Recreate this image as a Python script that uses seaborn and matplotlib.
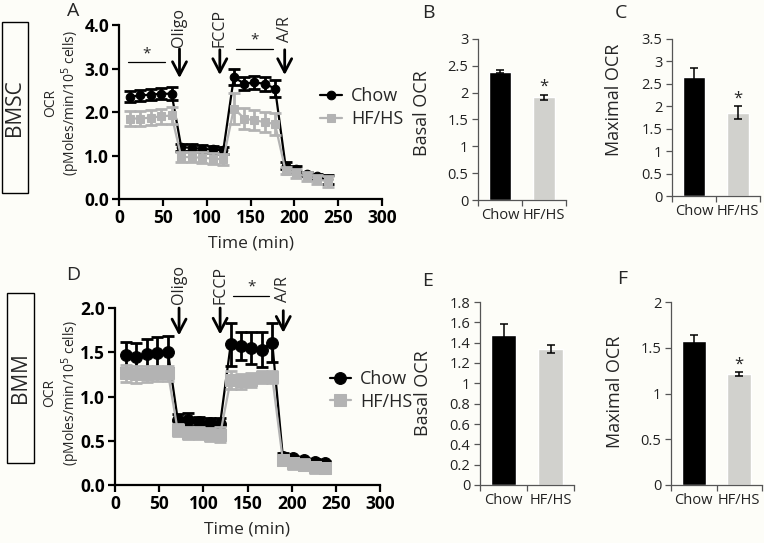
import numpy as np
import pandas as pd
import seaborn as sns
import matplotlib.pyplot as plt
from matplotlib.patches import Rectangle

# Seahorse time points (min)
time_min = [12, 24, 36, 48, 60, 71, 83, 95, 107, 119, 131, 143, 154, 166, 178, 190, 202, 214, 226, 238]

# BMSC OCR trace (A)
bmsc_chow = [2.35, 2.38, 2.40, 2.42, 2.42, 1.19, 1.18, 1.15, 1.14, 1.12, 2.80, 2.65, 2.68, 2.65, 2.54, 0.76, 0.68, 0.58, 0.52, 0.45]
bmsc_chow_sem = [0.13, 0.13, 0.13, 0.13, 0.15, 0.08, 0.08, 0.08, 0.08, 0.08, 0.18, 0.15, 0.15, 0.16, 0.19, 0.08, 0.08, 0.05, 0.05, 0.10]
bmsc_hfhs = [1.85, 1.85, 1.87, 1.90, 1.92, 0.97, 0.96, 0.95, 0.93, 0.91, 2.08, 1.85, 1.81, 1.77, 1.72, 0.65, 0.59, 0.51, 0.45, 0.41]
bmsc_hfhs_sem = [0.17, 0.18, 0.18, 0.18, 0.20, 0.12, 0.12, 0.13, 0.13, 0.13, 0.35, 0.25, 0.23, 0.23, 0.25, 0.08, 0.10, 0.10, 0.10, 0.13]

# BMM OCR trace (D)
bmm_chow = [1.47, 1.45, 1.48, 1.49, 1.50, 0.74, 0.74, 0.71, 0.70, 0.69, 1.59, 1.57, 1.55, 1.53, 1.61, 0.32, 0.30, 0.28, 0.26, 0.245]
bmm_chow_sem = [0.15, 0.15, 0.17, 0.18, 0.18, 0.06, 0.07, 0.06, 0.06, 0.07, 0.24, 0.16, 0.18, 0.20, 0.22, 0.04, 0.03, 0.03, 0.03, 0.03]
bmm_hfhs = [1.26, 1.25, 1.25, 1.26, 1.26, 0.62, 0.59, 0.585, 0.57, 0.57, 1.19, 1.17, 1.19, 1.22, 1.22, 0.28, 0.245, 0.23, 0.20, 0.19]
bmm_hfhs_sem = [0.10, 0.10, 0.09, 0.08, 0.08, 0.07, 0.07, 0.07, 0.07, 0.08, 0.10, 0.08, 0.08, 0.07, 0.07, 0.05, 0.06, 0.06, 0.06, 0.06]

# bar panels (B, C, E, F)
groups = ['Chow', 'HF/HS']
bmsc_basal = [2.39, 1.91]
bmsc_basal_sem = [0.03, 0.04]
bmsc_max = [2.66, 1.86]
bmsc_max_sem = [0.20, 0.14]
bmm_basal = [1.48, 1.34]
bmm_basal_sem = [0.10, 0.04]
bmm_max = [1.57, 1.215]
bmm_max_sem = [0.07, 0.02]

injections = ['Oligo', 'FCCP', 'A/R']

sns.set_theme(style='ticks')
plt.rcParams['font.family'] = ['Open Sans', 'DejaVu Sans']

bg = '#fdfdf8'
black = '#000000'
grey_line = '#b3b3b3'
grey_bar = '#d1d1cd'
W, H = 764, 543

fig = plt.figure(figsize=(W / 100, H / 100), dpi=100, facecolor=bg)


def px_axes(l, t, r, b):
    return fig.add_axes([l / W, 1 - b / H, (r - l) / W, (b - t) / H])


def trace_panel(ax, chow, chow_sem, hfhs, hfhs_sem, ms, ymax, ystep, arrow_x, arrow_y, txt_y):
    ax.set_facecolor(bg)
    df = pd.DataFrame({'time': time_min * 2,
                       'ocr': chow + hfhs,
                       'group': ['Chow'] * len(chow) + ['HF/HS'] * len(hfhs)})
    specs = [('Chow', chow_sem, black, 'o', 2), ('HF/HS', hfhs_sem, grey_line, 's', 3)]
    for name, sem, col, mk, z in specs:
        sub = df[df['group'] == name]
        sns.lineplot(data=sub, x='time', y='ocr', color=col, marker=mk, markersize=ms,
                     markeredgecolor=col, lw=1.6, ax=ax, zorder=z, label=name)
        ax.errorbar(sub['time'], sub['ocr'], yerr=sem, fmt='none', ecolor=col,
                    elinewidth=2.0, capsize=4.3, capthick=2.0, zorder=z)
    ax.set_xlim(0, 300)
    ax.set_ylim(0, ymax)
    ax.set_xticks(np.arange(0, 301, 50))
    ax.set_yticks(np.arange(0, ymax + 0.001, ystep))
    ax.set_yticklabels([f'{v:.1f}' for v in np.arange(0, ymax + 0.001, ystep)])
    for lab in ax.get_xticklabels() + ax.get_yticklabels():
        lab.set_fontweight('bold')
    ax.tick_params(axis='both', direction='out', length=5, width=1.6, labelsize=12.5,
                   pad=2, colors=black)
    for s in ['left', 'bottom']:
        ax.spines[s].set_linewidth(1.6)
        ax.spines[s].set_color(black)
    sns.despine(ax=ax)
    ax.set_xlabel('Time (min)', fontsize=12.5, labelpad=6)
    ax.set_ylabel('')
    # injection arrows
    for name, x, (y0, y1), ty in zip(injections, arrow_x, arrow_y, txt_y):
        ax.annotate('', xy=(x, y1), xytext=(x, y0), annotation_clip=False,
                    arrowprops=dict(arrowstyle='->, head_length=0.8, head_width=0.42',
                                    lw=2.0, color=black, shrinkA=0, shrinkB=0))
        ax.text(x, ty, name, rotation=90, ha='center', va='bottom', fontsize=11.5,
                clip_on=False)


def sig_bar(ax, x0, x1, y, dy):
    ax.plot([x0, x1], [y, y], color=black, lw=0.9, clip_on=False)
    ax.text((x0 + x1) / 2, y + dy, '*', ha='center', va='bottom', fontsize=11, clip_on=False)


def bar_panel(ax, vals, sems, ymax, ystep, fmt_vals, label, star_y=None, barw=0.5):
    ax.set_facecolor(bg)
    sns.barplot(x=groups, y=vals, hue=groups, palette=[black, grey_bar], width=barw,
                saturation=1, errorbar=None, legend=False, ax=ax)
    ax.errorbar([0, 1], vals, yerr=sems, fmt='none', ecolor=black, elinewidth=1.1,
                capsize=3, capthick=1.1, zorder=3)
    ax.set_xlim(-0.5, 1.5)
    ax.set_ylim(0, ymax)
    ax.set_yticks(np.arange(0, ymax + 0.001, ystep))
    ax.set_yticklabels(fmt_vals)
    ax.set_xticks([-0.5, 0.5, 1.5], minor=True)
    ax.tick_params(axis='x', which='major', length=0, pad=6, labelsize=10.5, colors='#222222')
    ax.tick_params(axis='x', which='minor', length=4, width=0.9, direction='out', colors='#555555')
    ax.tick_params(axis='y', length=4, width=0.9, direction='out', labelsize=10.5, pad=3,
                   colors='#555555', labelcolor='#222222')
    for s in ['left', 'bottom']:
        ax.spines[s].set_linewidth(0.9)
        ax.spines[s].set_color('#555555')
    sns.despine(ax=ax)
    ax.set_xlabel('')
    ax.set_ylabel(label, fontsize=13)
    if star_y is not None:
        ax.text(1, star_y, '*', ha='center', va='center', fontsize=12)


# ---- row 1: BMSC ----
axA = px_axes(119, 25, 382, 199)
trace_panel(axA, bmsc_chow, bmsc_chow_sem, bmsc_hfhs, bmsc_hfhs_sem, 6.2, 4.0, 1.0,
            [69, 115, 189], [(3.45, 2.78), (3.43, 2.85), (3.43, 2.85)], [3.5, 3.5, 3.62])
sig_bar(axA, 10, 52, 3.14, 0.03)
sig_bar(axA, 134, 176, 3.45, 0.03)
axA.legend(loc='center left', bbox_to_anchor=(0.765, 0.525), frameon=False, fontsize=13,
           handlelength=1.2, handletextpad=0.5, labelspacing=0.3, borderpad=0, borderaxespad=0)
axA.text(-0.215, 0.55, 'OCR\n(pMoles/min/10$^5$ cells)', transform=axA.transAxes, rotation=90,
         ha='center', va='center', fontsize=10, linespacing=1.1, multialignment='center')

axB = px_axes(478, 39, 566, 200)
bar_panel(axB, bmsc_basal, bmsc_basal_sem, 3, 0.5, ['0', '0.5', '1', '1.5', '2', '2.5', '3'],
          'Basal OCR', star_y=2.12)
axB.yaxis.set_label_coords(-0.53, 0.54)

axC = px_axes(672, 39, 760, 196)
bar_panel(axC, bmsc_max, bmsc_max_sem, 3.5, 0.5, ['0', '0.5', '1', '1.5', '2', '2.5', '3', '3.5'],
          'Maximal OCR', star_y=2.18)
axC.yaxis.set_label_coords(-0.56, 0.61)

# ---- row 2: BMM ----
axD = px_axes(115, 308, 380, 485)
trace_panel(axD, bmm_chow, bmm_chow_sem, bmm_hfhs, bmm_hfhs_sem, 8.5, 2.0, 0.5,
            [72.5, 119, 190.5], [(2.0, 1.69), (2.0, 1.70), (1.97, 1.72)], [2.05, 2.05, 2.07])
sig_bar(axD, 134, 174, 2.14, 0.015)
axD.legend(loc='center left', bbox_to_anchor=(0.81, 0.535), frameon=False, fontsize=13,
           handlelength=1.2, handletextpad=0.5, labelspacing=0.25, borderpad=0, borderaxespad=0)
axD.text(-0.2, 0.52, 'OCR\n(pMoles/min/10$^5$ cells)', transform=axD.transAxes, rotation=90,
         ha='center', va='center', fontsize=10, linespacing=1.1, multialignment='center')

axE = px_axes(480, 302, 574, 485)
bar_panel(axE, bmm_basal, bmm_basal_sem, 1.8, 0.2,
          ['0', '0.2', '0.4', '0.6', '0.8', '1', '1.2', '1.4', '1.6', '1.8'], 'Basal OCR', barw=0.52)
axE.yaxis.set_label_coords(-0.51, 0.5)

axF = px_axes(671, 302, 762, 485)
bar_panel(axF, bmm_max, bmm_max_sem, 2, 0.5, ['0', '0.5', '1', '1.5', '2'],
          'Maximal OCR', star_y=1.32, barw=0.52)
axF.yaxis.set_label_coords(-0.52, 0.51)

# panel letters
for letter, x, y in [('A', 73.5, 11), ('B', 428, 13.5), ('C', 621, 13.5),
                     ('D', 73.5, 274.5), ('E', 428, 281), ('F', 622.5, 279)]:
    fig.text(x / W, 1 - y / H, letter, ha='center', va='center', fontsize=14)

# row labels in boxes
for name, l, t, r, b in [('BMSC', 1.7, 21.7, 28.3, 192.7), ('BMM', 6.7, 293, 34, 463)]:
    fig.patches.append(Rectangle((l / W, 1 - b / H), (r - l) / W, (b - t) / H,
                                 transform=fig.transFigure, fill=False, ec=black, lw=1.0))
    fig.text((l + r) / 2 / W, 1 - (t + b) / 2 / H, name, rotation=90, ha='center',
             va='center', fontsize=15)

fig.savefig('out.png', dpi=100, facecolor=bg)
